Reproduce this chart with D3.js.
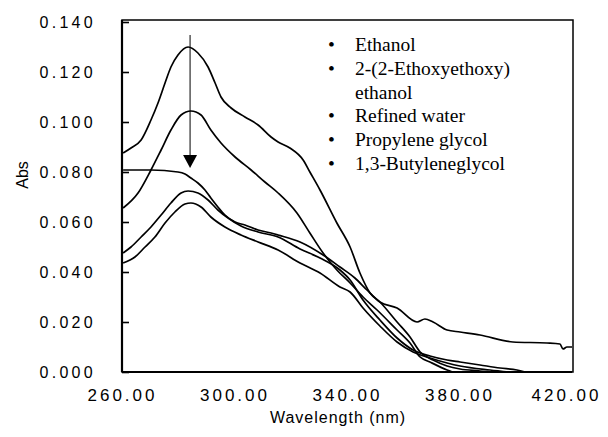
<!DOCTYPE html>
<html>
<head>
<meta charset="utf-8">
<script src="https://cdn.jsdelivr.net/npm/d3@7"></script>
<style>
  html, body { margin: 0; padding: 0; background: #fff; }
  svg { display: block; }
</style>
</head>
<body>
<svg id="chart" width="608" height="437"></svg>
<script>
// ---- data ----
const seriesNames = ["Ethanol", "2-(2-Ethoxyethoxy) ethanol", "Refined water", "Propylene glycol", "1,3-Butyleneglycol"];
const legendLines = [["Ethanol"], ["2-(2-Ethoxyethoxy)", "ethanol"], ["Refined water"], ["Propylene glycol"], ["1,3-Butyleneglycol"]];

const ethanol = [
  [260.4,.0876],[263.2,.0896],[266.8,.0928],[270.3,.1008],[272.8,.1076],[275.3,.1156],[277.4,.1220],
  [279.9,.1268],[283.5,.1300],[287.0,.1276],[290.6,.1220],[293.1,.1156],[295.2,.1100],[298.8,.1056],
  [303.7,.1020],[308.4,.0988],[313.0,.0940],[315.5,.0920],[319.7,.0896],[324.4,.0848],[326.8,.0800],
  [330.4,.0728],[336.4,.0596],[341.1,.0500],[344.6,.0396],[348.2,.0316],[351.7,.0280],[357.8,.0200],
  [362.4,.0140],[366.0,.0080],[370.6,.0048],[375.6,.0024],[380.2,.0012],[387.3,.0004],[390.8,0]
];
const ethoxy = [
  [260.4,.0656],[265.7,.0716],[270.3,.0808],[273.9,.0888],[277.4,.0968],[281.0,.1028],[284.5,.1044],
  [288.1,.1028],[291.6,.0968],[295.2,.0916],[300.2,.0860],[305.9,.0808],[310.8,.0760],[315.5,.0716],
  [322.2,.0636],[326.8,.0556],[331.5,.0476],[336.4,.0408],[341.1,.0356],[345.7,.0300],[350.7,.0248],
  [357.8,.0168],[362.4,.0116],[366.0,.0060],[369.5,.0040],[375.6,.0008],[377.5,0]
];
const water = [
  [260.4,.0808],[270.3,.0808],[279.9,.0800],[282.4,.0792],[284.5,.0776],[287.0,.0756],[289.5,.0728],
  [291.6,.0696],[294.1,.0660],[296.6,.0628],[300.2,.0600],[303.7,.0588],[308.4,.0568],[313.0,.0556],
  [315.5,.0548],[323.3,.0520],[331.5,.0468],[337.5,.0420],[342.8,.0376],[347.1,.0328],[351.7,.0280],
  [357.8,.0256],[364.9,.0200],[367.7,.0212],[370.6,.0200],[375.6,.0168],[380.2,.0160],[387.3,.0148],
  [399.0,.0120],[411.1,.0116],[415.7,.0112],[416.8,.0092],[418.2,.0100],[420.0,.0100]
];
const propylene = [
  [260.4,.0476],[263.2,.0500],[266.8,.0540],[270.3,.0580],[273.9,.0628],[277.4,.0676],[281.0,.0716],
  [283.5,.0724],[287.0,.0716],[290.6,.0688],[294.1,.0648],[297.7,.0616],[302.3,.0584],[308.4,.0560],
  [315.5,.0540],[323.3,.0492],[330.4,.0456],[337.5,.0408],[341.1,.0368],[345.7,.0288],[351.7,.0208],
  [357.8,.0136],[363.5,.0088],[369.5,.0064],[375.6,.0048],[380.2,.0040],[387.3,.0028],[394.4,.0016],
  [400.4,.0008],[403.3,0]
];
const butylene = [
  [260.4,.0436],[264.6,.0460],[268.2,.0500],[271.7,.0540],[275.3,.0596],[278.8,.0640],[282.4,.0672],
  [284.5,.0676],[288.1,.0660],[291.6,.0620],[296.6,.0580],[302.3,.0548],[308.4,.0520],[315.5,.0488],
  [323.3,.0436],[330.4,.0396],[337.5,.0340],[341.1,.0320],[345.7,.0256],[351.7,.0184],[357.8,.0120],
  [363.5,.0080],[369.5,.0056],[375.6,.0036],[380.2,.0024],[390.8,.0008],[397.7,0]
];
const seriesValues = [ethanol, ethoxy, water, propylene, butylene];

const xTicks = [260, 300, 340, 380, 420];
const yTicks = [0, 0.02, 0.04, 0.06, 0.08, 0.10, 0.12, 0.14];
const xTitle = "Wavelength (nm)";
const yTitle = "Abs";
// arrow annotation (wavelength, from Abs, to Abs)
const arrowAt = [284.2, 0.1348, 0.0816];

// ---- layout ----
const svg = d3.select("#chart");
const pLeft = 122, pRight = 572, pTop = 22, pBottom = 372;
const x = d3.scaleLinear().domain([260, 420]).range([pLeft, pRight]);
const y = d3.scaleLinear().domain([0, 0.14]).range([pBottom, pTop]);

const tickFont = "'Liberation Sans', Arial, sans-serif";

// y axis (ticks inside)
const yAxis = svg.append("g")
  .attr("transform", `translate(${pLeft},0)`)
  .call(d3.axisLeft(y).tickValues(yTicks).tickFormat(d3.format(".3f"))
        .tickSizeInner(-7).tickSizeOuter(0).tickPadding(26));
yAxis.select(".domain").remove();
yAxis.selectAll(".tick line").attr("stroke", "#000").attr("stroke-width", 1.6);
yAxis.selectAll(".tick text")
  .attr("font-family", tickFont).attr("font-size", 16)
  .attr("letter-spacing", "3.3px").attr("fill", "#000").attr("dy", "0.36em");

// x axis (no visible ticks)
const xAxis = svg.append("g")
  .attr("transform", `translate(0,${pBottom})`)
  .call(d3.axisBottom(x).tickValues(xTicks).tickFormat(d3.format(".2f"))
        .tickSize(0).tickPadding(17));
xAxis.select(".domain").remove();
xAxis.selectAll(".tick text")
  .attr("font-family", tickFont).attr("font-size", 17)
  .attr("letter-spacing", "3px").attr("fill", "#000");
xAxis.selectAll(".tick text").filter((d, i, n) => i === n.length - 1)
  .attr("text-anchor", "end").attr("x", 29);

// frame
svg.append("rect")
  .attr("x", x(260)).attr("y", 20)
  .attr("width", x(420) - x(260) + 1).attr("height", y(0) - 20)
  .attr("fill", "none").attr("stroke", "#000").attr("stroke-width", 1.5);
svg.append("line")
  .attr("x1", x(260)).attr("x2", x(260)).attr("y1", 20).attr("y2", y(0))
  .attr("stroke", "#000").attr("stroke-width", 2.2);
svg.append("line")
  .attr("x1", x(260)).attr("x2", x(420)).attr("y1", y(0)).attr("y2", y(0))
  .attr("stroke", "#000").attr("stroke-width", 2);

// axis titles
svg.append("text")
  .attr("x", 338).attr("y", 423)
  .attr("text-anchor", "middle")
  .attr("font-family", tickFont).attr("font-size", 16).attr("letter-spacing", "1px")
  .text(xTitle);
svg.append("text")
  .attr("transform", `translate(28,175) rotate(-90)`)
  .attr("text-anchor", "middle")
  .attr("font-family", tickFont).attr("font-size", 16)
  .text(yTitle);

// curves
const line = d3.line().x(d => x(d[0])).y(d => y(d[1])).curve(d3.curveMonotoneX);
svg.append("g").selectAll("path")
  .data(seriesValues)
  .join("path")
  .attr("d", line)
  .attr("fill", "none")
  .attr("stroke", "#000")
  .attr("stroke-width", 1.7)
  .attr("stroke-linejoin", "round");

// arrow annotation
const ax = x(arrowAt[0]);
svg.append("line")
  .attr("x1", ax).attr("x2", ax)
  .attr("y1", y(arrowAt[1])).attr("y2", y(arrowAt[2]) - 12)
  .attr("stroke", "#000").attr("stroke-width", 1);
svg.append("path")
  .attr("d", `M${ax - 7},${y(arrowAt[2]) - 13} L${ax + 7},${y(arrowAt[2]) - 13} L${ax},${y(arrowAt[2])} Z`)
  .attr("fill", "#000");

// legend (bulleted text)
const legendFont = "'Liberation Serif', 'Times New Roman', serif";
const lg = svg.append("g");
let row = 0;
const lineH = 23.8;
legendLines.forEach((lines) => {
  lines.forEach((t, j) => {
    const yy = 51 + row * lineH;
    if (j === 0) {
      lg.append("text").attr("x", 328).attr("y", yy)
        .attr("font-family", legendFont).attr("font-size", 19.5).text("•");
    }
    lg.append("text").attr("x", 355).attr("y", yy)
      .attr("font-family", legendFont).attr("font-size", 19.5).text(t);
    row++;
  });
});
</script>
</body>
</html>
